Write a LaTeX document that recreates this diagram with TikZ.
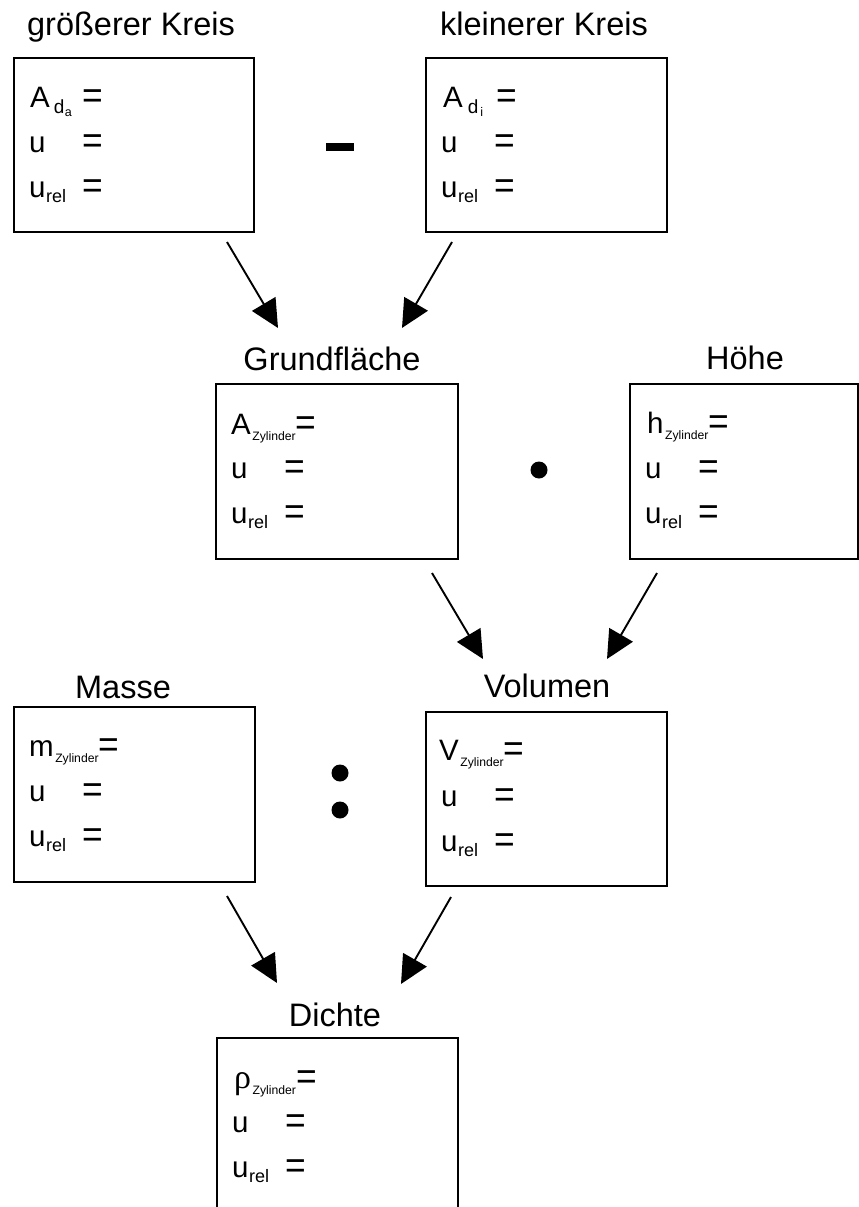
\documentclass[tikz,border=0pt]{standalone}
\usepackage{fontspec}
\setmainfont{Liberation Sans}
\newfontfamily\greekserif{Liberation Serif}
\usetikzlibrary{arrows.meta,calc}
\newcommand\zsub[1]{\kern1.5pt\raisebox{-6pt}{\fontsize{12.2}{13}\selectfont #1}}
\newcommand\rsub[1]{\kern0.5pt\raisebox{-5pt}{\fontsize{18}{18}\selectfont #1}}
\newcommand\eqs{\raisebox{-1.5pt}{\scalebox{1.2}[1.3]{=}}}
\newcommand\urows[1]{%
  \node[row] (#1u) at ($(#1.north west)+(16,95)$) {u};
  \node[row] (#1ue) at ($(#1.north west)+(69,95)$) {\eqs};
  \node[row] (#1r) at ($(#1.north west)+(16,140)$) {u\rsub{rel}};
  \node[row] (#1re) at ($(#1.north west)+(69,140)$) {\eqs};}
\begin{document}
\begin{tikzpicture}[x=1pt,y=-1pt,
  box/.style={draw,line width=1.9pt,anchor=north west,inner sep=0pt},
  row/.style={anchor=base west,inner sep=0pt,font=\fontsize{29.5}{31}\selectfont},
  lbl/.style={anchor=base,inner sep=0pt,font=\fontsize{32.5}{36}\selectfont},
  arr/.style={line width=1.9pt,-{Triangle[length=28pt,width=27pt]}},
  opdot/.style={circle,fill=black,inner sep=0pt,minimum size=17pt}]
\useasboundingbox (0,0) rectangle (859,1207);
\clip (0,0) rectangle (859,1207);

% boxes
\node[box,minimum width=240pt,minimum height=174pt] (b1) at (13,57) {};
\node[box,minimum width=241pt,minimum height=174pt] (b2) at (425,57) {};
\node[box,minimum width=242pt,minimum height=175pt] (b3) at (215,383) {};
\node[box,minimum width=228pt,minimum height=175pt] (b4) at (629,383) {};
\node[box,minimum width=241pt,minimum height=175pt] (b5) at (13,706) {};
\node[box,minimum width=241pt,minimum height=174pt] (b6) at (425,711) {};
\node[box,minimum width=241pt,minimum height=260pt] (b7) at (216,1037) {};

% labels
\node[lbl] (l1) at (131,36) {größerer Kreis};
\node[lbl] (l2) at (544,36) {kleinerer Kreis};
\node[lbl] (l3) at (332,370) {Grundfläche};
\node[lbl] (l4) at (745,369) {Höhe};
\node[lbl] (l5) at (123,698) {Masse};
\node[lbl] (l6) at (547,697) {Volumen};
\node[lbl] (l7) at (335,1026) {Dichte};

% box contents
\node[row] (b1a) at ($(b1.north west)+(17,50)$) {A\kern4pt\raisebox{-6pt}{\fontsize{19}{19}\selectfont d}\kern0.5pt\raisebox{-9pt}{\fontsize{12.5}{12}\selectfont a}};
\node[row] (b1ae) at ($(b1.north west)+(69,50)$) {\eqs};
\urows{b1}
\node[row] (b2a) at ($(b2.north west)+(18,50)$) {A\kern5pt\raisebox{-6pt}{\fontsize{19}{19}\selectfont d}\kern2pt\raisebox{-9pt}{\fontsize{12.5}{12}\selectfont i}};
\node[row] (b2ae) at ($(b2.north west)+(71,50)$) {\eqs};
\urows{b2}
\node[row] (b3a) at ($(b3.north west)+(16,51)$) {A\zsub{Zylinder}\eqs};
\urows{b3}
\node[row] (b4a) at ($(b4.north west)+(18,50)$) {h\zsub{Zylinder}\eqs};
\urows{b4}
\node[row] (b5a) at ($(b5.north west)+(16,50)$) {m\zsub{Zylinder}\eqs};
\urows{b5}
\node[row] (b6a) at ($(b6.north west)+(14,49)$) {V\zsub{Zylinder}\eqs};
\urows{b6}
\node[row] (b7a) at ($(b7.north west)+(18,51)$) {{\greekserif\fontsize{34}{34}\selectfont ρ}\zsub{Zylinder}\eqs};
\urows{b7}

% operators
\node[fill=black,inner sep=0pt,minimum width=28pt,minimum height=8pt] (minus) at (340,147) {};
\node[opdot] (times) at (539,470) {};
\node[opdot] (div1) at (340,773) {};
\node[opdot] (div2) at (340,810) {};

% arrows
\coordinate (a1s) at (227,242); \coordinate (a1e) at (278,328);
\coordinate (a2s) at (452,242); \coordinate (a2e) at (402,328);
\coordinate (a3s) at (432,573); \coordinate (a3e) at (483,659);
\coordinate (a4s) at (657,573); \coordinate (a4e) at (607,659);
\coordinate (a5s) at (227,896); \coordinate (a5e) at (277,983);
\coordinate (a6s) at (451,897); \coordinate (a6e) at (401,984);
\draw[arr] (a1s) -- (a1e);
\draw[arr] (a2s) -- (a2e);
\draw[arr] (a3s) -- (a3e);
\draw[arr] (a4s) -- (a4e);
\draw[arr] (a5s) -- (a5e);
\draw[arr] (a6s) -- (a6e);
\end{tikzpicture}
\end{document}
